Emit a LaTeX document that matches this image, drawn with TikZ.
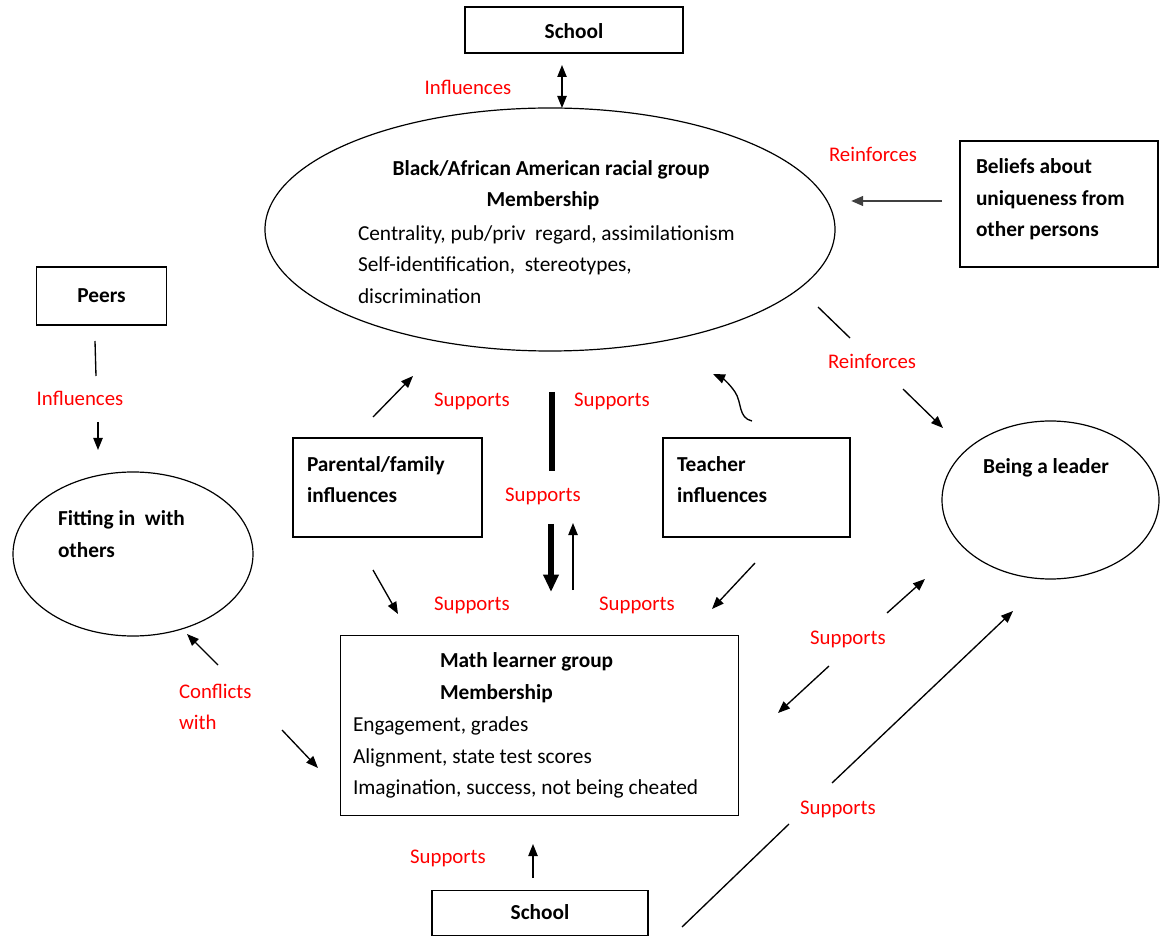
\documentclass[tikz,border=0pt]{standalone}
\usepackage{fontspec}
\setmainfont{Carlito}
\usetikzlibrary{arrows.meta,shapes.geometric}
\newdimen\px \px=0.75pt
\begin{document}
\begin{tikzpicture}[x=0.75pt,y=-0.75pt,
  every node/.style={font=\fontsize{16}{19}\selectfont, inner sep=0pt, outer sep=0pt},
  box/.style={draw, line width=1.2pt, rectangle},
  oval/.style={draw, line width=0.9pt, ellipse},
  txt/.style={yshift=-2.2pt},
  head/.style={txt, font=\fontsize{16}{19}\selectfont\bfseries, anchor=mid},
  headl/.style={txt, font=\fontsize{16}{19}\selectfont\bfseries, anchor=mid west},
  item/.style={txt, anchor=mid west},
  lbl/.style={txt, font=\fontsize{15.6}{19}\selectfont, text=red, anchor=mid},
  tip/.style={-{Triangle[length=9pt,width=7pt]}},
  conn/.style={line width=1pt, tip},
  plain/.style={line width=1pt},
  thick bar/.style={line width=4.5pt},
]
\useasboundingbox (0,0) rectangle (1160,937);

% ---- boxes ----
\node[box, minimum width=218\px, minimum height=46\px] (schoolT) at (574,30) {};
\node[head] at (574,32) {School};

\node[box, minimum width=198\px, minimum height=126\px] (beliefs) at (1059,204) {};
\node[headl] at (976,167) {Beliefs about};
\node[headl] at (976,199) {uniqueness from};
\node[headl] at (976,230) {other persons};

\node[box, minimum width=130\px, minimum height=58\px] (peers) at (101.5,296) {};
\node[head] at (101.5,296) {Peers};

\node[box, minimum width=189\px, minimum height=99\px] (parent) at (387.5,487.5) {};
\node[headl] at (307,465) {Parental/family};
\node[headl] at (307,496) {influences};

\node[box, minimum width=187\px, minimum height=99\px] (teacher) at (756.5,487.5) {};
\node[headl] at (677,465) {Teacher};
\node[headl] at (677,496) {influences};

\node[box, minimum width=398\px, minimum height=180\px] (math) at (539.5,725.5) {};
\node[headl] at (440,661) {Math learner group};
\node[headl] at (440,693) {Membership};
\node[item] at (353,725) {Engagement, grades};
\node[item] at (353,757) {Alignment, state test scores};
\node[item] at (353,788) {Imagination, success, not being\ cheated};

\node[box, minimum width=216\px, minimum height=45\px] (schoolB) at (540,913) {};
\node[head] at (540,913) {School};

% ---- ellipses ----
\node[oval, minimum width=570\px, minimum height=243\px] (race) at (550,229.5) {};
\node[head] at (551,169) {Black/African American racial group};
\node[head] at (543,200) {Membership};
\node[item] at (358,234) {Centrality, pub/priv\ \ regard, assimilationism};
\node[item] at (358,265) {Self-identification,\ \ stereotypes,};
\node[item] at (358,297) {discrimination};

\node[oval, minimum width=240\px, minimum height=164\px] (fit) at (133,554) {};
\node[headl] at (58,519) {Fitting in\ \ with};
\node[headl] at (58,551) {others};

\node[oval, minimum width=217\px, minimum height=158\px] (leader) at (1050.5,500) {};
\node[head] at (1046,467) {Being a leader};

% ---- labels ----
\node[lbl] (lInfTop) at (468,88) {Influences};
\node[lbl] (lReinA) at (873,155) {Reinforces};
\node[lbl] (lInfPeer) at (80,399) {Influences};
\node[lbl] (lSupA) at (472,400) {Supports};
\node[lbl] (lSupB) at (612,400) {Supports};
\node[lbl] (lSupC) at (543,495) {Supports};
\node[lbl] (lSupD) at (472,604) {Supports};
\node[lbl] (lSupE) at (637,604) {Supports};
\node[lbl] (lReinB) at (872,362) {Reinforces};
\node[lbl] (lSupF) at (848,638) {Supports};
\node[lbl] (lSupG) at (838,808) {Supports};
\node[lbl] (lSupH) at (448,857) {Supports};
\node[lbl, anchor=mid west] (lConf) at (179,692) {Conflicts};
\node[lbl, anchor=mid west] (lWith) at (179,723) {with};

% ---- connector end points ----
\coordinate (sTopA) at (562,65);
\coordinate (sTopB) at (562,108);
\coordinate (belA) at (942,201);
\coordinate (belB) at (851,201);
\coordinate (peerA) at (95,341);
\coordinate (peerB) at (96,376);
\coordinate (peerC) at (98,422);
\coordinate (peerD) at (98,450);
\coordinate (parUpA) at (373,417);
\coordinate (parUpB) at (413,376);
\coordinate (barA) at (552,392);
\coordinate (barB) at (552,471);
\coordinate (dnA) at (551,524);
\coordinate (dnB) at (551,592);
\coordinate (upA) at (573,590);
\coordinate (upB) at (573,523);
\coordinate (wavA) at (752,421);
\coordinate (wavB) at (713,374);
\coordinate (parDnA) at (373,570);
\coordinate (parDnB) at (398,614);
\coordinate (teaDnA) at (755,563);
\coordinate (teaDnB) at (712,609);
\coordinate (reA) at (818,307);
\coordinate (reB) at (850,338);
\coordinate (reC) at (903,389);
\coordinate (reD) at (943,428);
\coordinate (supUpA) at (887,613);
\coordinate (supUpB) at (925,579);
\coordinate (supDnA) at (829,666);
\coordinate (supDnB) at (778,713);
\coordinate (cfUpA) at (218,665);
\coordinate (cfUpB) at (187,634);
\coordinate (cfDnA) at (282,730);
\coordinate (cfDnB) at (318,768);
\coordinate (lnA) at (682,927);
\coordinate (lnB) at (789,824);
\coordinate (lnC) at (832,783);
\coordinate (lnD) at (1013,611);
\coordinate (sbA) at (533,878);
\coordinate (sbB) at (533,844);

% ---- connectors ----
\draw[plain, {Triangle[length=9pt,width=7pt]}-{Triangle[length=9pt,width=7pt]}] (sTopA) -- (sTopB);
\draw[line width=2pt, black!75, tip] (belA) -- (belB);
\draw[plain] (peerA) -- (peerB);
\draw[conn] (peerC) -- (peerD);
\draw[conn] (parUpA) -- (parUpB);
\draw[thick bar] (barA) -- (barB);
\draw[thick bar, -{Triangle[length=13pt,width=11pt]}] (dnA) -- (dnB);
\draw[conn] (upA) -- (upB);
\draw[conn] (wavA) .. controls (738,418) and (742,402) .. (735,392)
                   .. controls (729,383) and (722,378) .. (wavB);
\draw[conn] (parDnA) -- (parDnB);
\draw[conn] (teaDnA) -- (teaDnB);
\draw[plain] (reA) -- (reB);
\draw[conn] (reC) -- (reD);
\draw[conn] (supUpA) -- (supUpB);
\draw[conn] (supDnA) -- (supDnB);
\draw[conn] (cfUpA) -- (cfUpB);
\draw[conn] (cfDnA) -- (cfDnB);
\draw[plain] (lnA) -- (lnB);
\draw[conn] (lnC) -- (lnD);
\draw[conn] (sbA) -- (sbB);
\end{tikzpicture}
\end{document}
